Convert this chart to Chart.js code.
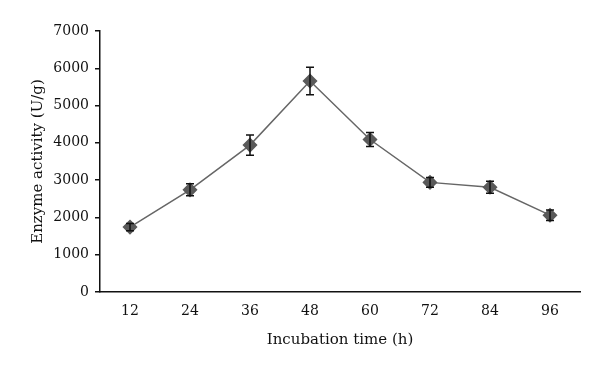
<!DOCTYPE html>
<html>
<head>
<meta charset="utf-8">
<script src="https://cdn.jsdelivr.net/npm/chart.js@4/dist/chart.umd.min.js"></script>
<style>
  html, body { margin: 0; padding: 0; background: #fff; }
  #wrap { width: 600px; height: 371px; }
</style>
</head>
<body>
<div id="wrap"><canvas id="enzymeChart"></canvas></div>
<script>
// Data
const hours = ['12', '24', '36', '48', '60', '72', '84', '96'];
const activity = [1740, 2740, 3940, 5660, 4090, 2940, 2810, 2060];
const activityErr = [100, 160, 270, 370, 190, 130, 160, 140];
const yTicks = [0, 1000, 2000, 3000, 4000, 5000, 6000, 7000];

// draws vertical error bars with caps
const errorBars = {
    id: 'errorBars',
    afterDatasetsDraw(chart) {
        const ctx = chart.ctx;
        const meta = chart.getDatasetMeta(0);
        const y = chart.scales.y;
        ctx.save();
        ctx.strokeStyle = '#111';
        ctx.lineWidth = 1.5;
        meta.data.forEach(function (pt, i) {
            const top = y.getPixelForValue(activity[i] + activityErr[i]);
            const bot = y.getPixelForValue(activity[i] - activityErr[i]);
            ctx.beginPath();
            ctx.moveTo(pt.x, top);
            ctx.lineTo(pt.x, bot);
            ctx.moveTo(pt.x - 4, top);
            ctx.lineTo(pt.x + 4, top);
            ctx.moveTo(pt.x - 4, bot);
            ctx.lineTo(pt.x + 4, bot);
            ctx.stroke();
        });
        ctx.restore();
    }
};

const serif = 'DejaVu Serif';

new Chart(document.getElementById('enzymeChart'), {
    type: 'line',
    data: {
        labels: hours,
        datasets: [{
            data: activity,
            borderColor: '#666',
            borderWidth: 1.5,
            pointStyle: 'rectRot',
            pointRadius: 6.5,
            pointBackgroundColor: '#5a5a5a',
            pointBorderColor: '#5a5a5a',
            tension: 0
        }]
    },
    plugins: [errorBars],
    options: {
        responsive: true,
        maintainAspectRatio: false,
        animation: false,
        layout: { padding: { top: 31, right: 20, left: 0, bottom: 0 } },
        plugins: {
            legend: { display: false },
            tooltip: { enabled: false }
        },
        scales: {
            x: {
                offset: true,
                grid: { display: false, drawTicks: false },
                border: { display: true, color: '#111', width: 1.5 },
                ticks: { color: '#111', padding: 11, font: { family: serif, size: 14 } },
                title: {
                    display: true,
                    text: 'Incubation time (h)',
                    color: '#111',
                    padding: { top: 0, bottom: 22 },
                    font: { family: serif, size: 15 }
                },
                afterFit(scale) { scale.height = 79; }
            },
            y: {
                min: 0,
                max: 7000,
                afterBuildTicks(scale) { scale.ticks = yTicks.map(v => ({ value: v })); },
                grid: { drawOnChartArea: false, drawTicks: true, tickLength: 5, color: '#111', lineWidth: 1.5 },
                border: { display: true, color: '#111', width: 1.5 },
                ticks: {
                    color: '#111',
                    padding: 6,
                    font: { family: serif, size: 14 },
                    callback: v => String(v)
                },
                title: {
                    display: true,
                    text: 'Enzyme activity (U/g)',
                    color: '#111',
                    padding: { top: 29, bottom: 0 },
                    font: { family: serif, size: 15 }
                },
                afterFit(scale) { scale.width = 100; }
            }
        }
    }
});
</script>
</body>
</html>
